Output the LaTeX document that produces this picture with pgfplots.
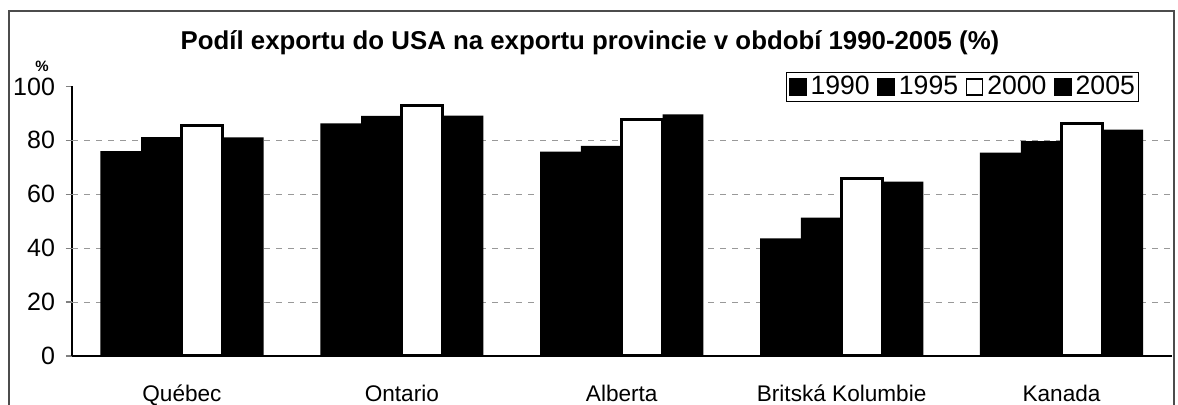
\documentclass[border=0pt]{standalone}
\usepackage{fontspec}
\setmainfont{Liberation Sans}
\usepackage{pgfplots}
\pgfplotsset{compat=1.18}

\begin{document}
\begin{tikzpicture}
% page area: 1 px of the reference = 0.5pt
\useasboundingbox (-36pt,-24.5pt) rectangle (553pt,178pt);
\begin{axis}[
  scale only axis, width=549.75pt, height=134.8pt,
  ybar=0pt, bar width=20.4pt,
  xmin=-0.5, xmax=4.5, ymin=0, ymax=100,
  xtick={0,...,4},
  xticklabels={Québec,Ontario,Alberta,Britská Kolumbie,Kanada},
  ytick={0,20,...,100},
  extra y ticks={20,40,60,80}, extra y tick labels={},
  extra y tick style={ymajorgrids=true, major grid style={gray!80, dash pattern=on 3pt off 3pt, line width=0.5pt}},
  axis x line*=bottom, axis y line*=left,
  axis line style={line width=0.8pt, -},
  xtick style={draw=none},
  ytick style={line width=0.6pt},
  tick align=outside, major tick length=3pt,
  /pgf/number format/assume math mode=true,
  yticklabel style={font=\fontsize{12.5}{14}\selectfont, anchor=east, xshift=-2pt},
  xticklabel style={font=\fontsize{11.3}{13}\selectfont, anchor=base, yshift=-20pt},
  legend columns=4,
  legend style={at={(0.9704,1.053)}, anchor=north east, draw=black, line width=0.5pt,
    font=\fontsize{13.3}{15}\selectfont, inner sep=1pt,
    /tikz/every odd column/.append style={column sep=1.2pt},
    /tikz/every even column/.append style={column sep=3pt},
    nodes={inner sep=0.8pt}},
  legend image code/.code={\draw[#1, line width=0.8pt] (0pt,-4pt) rectangle (8pt,4pt);},
]
\addplot[fill=black, draw=none] coordinates {(0,76.0) (1,86.3) (2,75.8) (3,43.6) (4,75.4)};
\addplot[fill=black, draw=none] coordinates {(0,81.2) (1,89.1) (2,77.9) (3,51.3) (4,79.7)};
\addplot[fill=white, draw=black, line width=1.5pt] coordinates {(0,85.4) (1,92.9) (2,87.6) (3,65.9) (4,86.4)};
\addplot[fill=black, draw=none] coordinates {(0,81.1) (1,89.2) (2,89.6) (3,64.7) (4,84.0)};
\legend{1990,1995,2000,2005}
\end{axis}
\draw[line width=0.6pt, black!70] (-31.5pt,-24.5pt) -- (-31.5pt,172.5pt) -- (551pt,172.5pt) -- (551pt,-24.5pt);
\node[anchor=base, font=\bfseries\fontsize{12.9}{15}\selectfont] at (259pt,153pt)
  {Podíl exportu do USA na exportu provincie v období 1990-2005 (\%)};
\node[font=\bfseries\fontsize{7.5}{8}\selectfont] at (-15pt,145pt) {\%};
\end{tikzpicture}
\end{document}
